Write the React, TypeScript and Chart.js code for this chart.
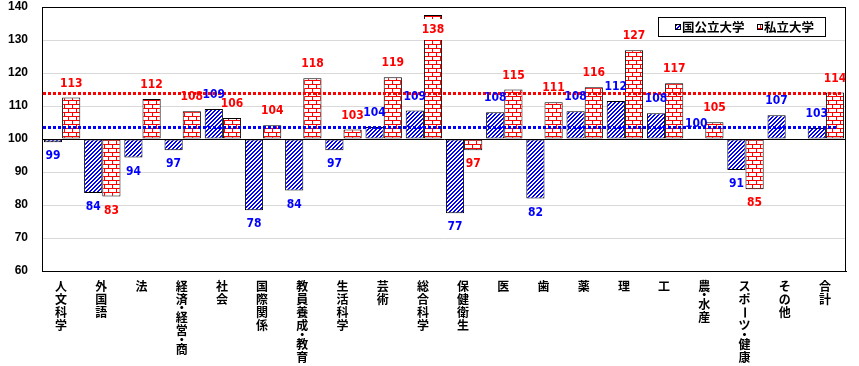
import React, { useEffect, useRef } from "react";
import { Chart, registerables } from "chart.js";

Chart.register(...registerables);

const categories = [
  "人文科学", "外国語", "法", "経済・経営・商", "社会", "国際関係", "教員養成・教育",
  "生活科学", "芸術", "総合科学", "保健衛生", "医", "歯", "薬", "理", "工",
  "農・水産", "スポーツ・健康", "その他", "合計",
];

const seriesNames = ["国公立大学", "私立大学"];

const publicValues = [
  99.0, 83.6, 94.4, 96.6, 109.1, 78.4, 84.4, 96.6, 103.6, 108.6,
  77.5, 108.1, 82.0, 108.4, 111.5, 107.8, 100.2, 90.6, 107.2, 103.3,
];
const privateValues = [
  112.6, 82.6, 112.1, 108.4, 106.4, 104.2, 118.4, 102.9, 118.7, 137.6,
  96.6, 115.0, 111.1, 115.7, 126.9, 116.9, 105.1, 84.8, null, 114.1,
];

const publicLabels = [99, 84, 94, 97, 109, 78, 84, 97, 104, 109, 77, 108, 82, 108, 112, 108, 100, 91, 107, 103];
const privateLabels = [113, 83, 112, 108, 106, 104, 118, 103, 119, 138, 97, 115, 111, 116, 127, 117, 105, 85, null, 114];

const publicAverage = 103.5;
const privateAverage = 114.0;

const yMin = 60;
const yMax = 140;
const yStep = 10;
const baseValue = 100;

const BLUE = "#0000ff";
const RED = "#ff0000";
const CJK = '"Noto Sans CJK JP", "Noto Sans CJK SC", sans-serif';
const NUM = '"Liberation Sans Narrow", "DejaVu Sans Condensed", "Liberation Sans", sans-serif';

function makeHatch(): CanvasPattern | string {
  const c = document.createElement("canvas");
  c.width = 4;
  c.height = 4;
  const g = c.getContext("2d");
  if (!g) return BLUE;
  g.fillStyle = "#ffffff";
  g.fillRect(0, 0, 4, 4);
  g.fillStyle = BLUE;
  for (let x = 0; x < 4; x++) {
    for (let y = 0; y < 4; y++) {
      const m = (x + y) % 4;
      if (m === 0 || m === 1) g.fillRect(x, y, 1, 1);
    }
  }
  return g.createPattern(c, "repeat") || BLUE;
}

function makeBrick(): CanvasPattern | string {
  const c = document.createElement("canvas");
  c.width = 8;
  c.height = 8;
  const g = c.getContext("2d");
  if (!g) return RED;
  g.fillStyle = "#ffffff";
  g.fillRect(0, 0, 8, 8);
  g.fillStyle = RED;
  g.fillRect(0, 0, 8, 1);
  g.fillRect(0, 4, 8, 1);
  g.fillRect(0, 0, 1, 4);
  g.fillRect(4, 4, 1, 4);
  return g.createPattern(c, "repeat") || RED;
}

function drawVertical(ctx: CanvasRenderingContext2D, text: string, x: number, y0: number) {
  const step = 13.3;
  const dotExtra = 5;
  let y = y0;
  for (const ch of Array.from(text)) {
    if (ch === "・") {
      const prev = y - step;
      const next = y + dotExtra;
      const yy = (prev + next) / 2;
      ctx.save();
      ctx.textBaseline = "alphabetic";
      const m = ctx.measureText(ch);
      const asc = m.actualBoundingBoxAscent || 0;
      const desc = m.actualBoundingBoxDescent || 0;
      ctx.fillText(ch, x, yy + (asc - desc) / 2);
      ctx.restore();
      y += dotExtra;
    } else if (ch === "ー") {
      ctx.save();
      ctx.translate(x, y);
      ctx.rotate(Math.PI / 2);
      ctx.fillText(ch, 0, 0);
      ctx.restore();
      y += step;
    } else {
      ctx.fillText(ch, x, y);
      y += step;
    }
  }
}

export default function App() {
  const ref = useRef<HTMLCanvasElement | null>(null);

  useEffect(() => {
    document.body.style.margin = "0";
    const canvas = ref.current;
    if (!canvas) return;
    const hatch = makeHatch();
    const brick = makeBrick();

    const overlay = {
      id: "overlay",
      afterDatasetsDraw(chart: any) {
        const ctx: CanvasRenderingContext2D = chart.ctx;
        const area = chart.chartArea;
        const ys = chart.scales.y;

        // average dotted lines
        ctx.save();
        ctx.lineWidth = 3;
        ctx.setLineDash([3, 2]);
        const drawAvg = (v: number, color: string, endInset: number) => {
          const py = Math.round(ys.getPixelForValue(v)) + 0.5;
          ctx.strokeStyle = color;
          ctx.beginPath();
          ctx.moveTo(area.left + 1, py);
          ctx.lineTo(area.right - endInset, py);
          ctx.stroke();
        };
        drawAvg(privateAverage, RED, 3);
        drawAvg(publicAverage, BLUE, 8);
        ctx.restore();

        // data labels
        ctx.save();
        ctx.font = `bold 12px ${NUM}`;
        ctx.textAlign = "center";
        ctx.textBaseline = "middle";
        const labelSets = [
          { values: publicValues, labels: publicLabels, color: BLUE, ds: 0 },
          { values: privateValues, labels: privateLabels, color: RED, ds: 1 },
        ];
        for (const set of labelSets) {
          const meta = chart.getDatasetMeta(set.ds);
          set.values.forEach((v, i) => {
            const lab = set.labels[i];
            if (v === null || lab === null) return;
            const el = meta.data[i];
            if (!el) return;
            const x = el.x;
            const py = ys.getPixelForValue(v);
            let y = v >= baseValue ? py - 14 : py + 14;
            const text = String(lab);
            if (y < area.top + 22) {
              y = area.top + 22.5;
              const w = Math.max(ctx.measureText(text).width + 4, el.width + 2);
              ctx.fillStyle = "#ffffff";
              ctx.fillRect(x - w / 2, y - 10.5, w, 21);
            }
            ctx.fillStyle = set.color;
            ctx.fillText(text, x, y);
          });
        }
        ctx.restore();
      },
      afterDraw(chart: any) {
        const ctx: CanvasRenderingContext2D = chart.ctx;
        const area = chart.chartArea;
        const xs = chart.scales.x;

        // plot border
        ctx.save();
        ctx.strokeStyle = "#000000";
        ctx.lineWidth = 1;
        ctx.strokeRect(Math.round(area.left) + 0.5, Math.round(area.top) + 0.5,
          Math.round(area.right - area.left) - 1, Math.round(area.bottom - area.top));
        ctx.restore();

        // category labels (vertical)
        ctx.save();
        ctx.fillStyle = "#000000";
        ctx.font = `bold 12px ${CJK}`;
        ctx.textAlign = "center";
        ctx.textBaseline = "middle";
        categories.forEach((c, i) => {
          const x = xs.getPixelForValue(i) - 1;
          drawVertical(ctx, c, x, area.bottom + 15);
        });
        ctx.restore();

        // legend
        ctx.save();
        const lw = 168;
        const lh = 20;
        const lx = Math.round(area.right) - 20 - lw;
        const ly = Math.round(area.top) + 10;
        ctx.fillStyle = "#ffffff";
        ctx.fillRect(lx, ly, lw, lh);
        ctx.strokeStyle = "#000000";
        ctx.lineWidth = 1;
        ctx.strokeRect(lx + 0.5, ly + 0.5, lw - 1, lh - 1);
        ctx.font = `bold 12.5px ${CJK}`;
        ctx.textBaseline = "middle";
        ctx.textAlign = "left";
        const items = [
          { name: seriesNames[0], fill: hatch, off: 17 },
          { name: seriesNames[1], fill: brick, off: 99 },
        ];
        for (const it of items) {
          const ix = lx + it.off;
          const iy = ly + 7;
          ctx.fillStyle = it.fill as any;
          ctx.fillRect(ix, iy, 6, 6);
          ctx.strokeStyle = "#000000";
          ctx.strokeRect(ix + 0.5, iy + 0.5, 5, 5);
          ctx.fillStyle = "#000000";
          ctx.fillText(it.name, ix + 7, ly + lh / 2 + 0.5);
        }
        ctx.restore();
      },
    };

    const chart = new Chart(canvas, {
      type: "bar",
      data: {
        labels: categories,
        datasets: [
          {
            label: seriesNames[0],
            data: publicValues,
            base: baseValue,
            backgroundColor: hatch as any,
            borderColor: "#000000",
            borderWidth: 1,
            borderSkipped: false,
            categoryPercentage: 0.905,
            barPercentage: 1.0,
          } as any,
          {
            label: seriesNames[1],
            data: privateValues,
            base: baseValue,
            backgroundColor: brick as any,
            borderColor: "#000000",
            borderWidth: 1,
            borderSkipped: false,
            categoryPercentage: 0.905,
            barPercentage: 1.0,
          } as any,
        ],
      },
      options: {
        responsive: false,
        devicePixelRatio: 1,
        animation: false,
        layout: { padding: { top: 7, right: 13, bottom: 0, left: 0 } },
        plugins: {
          legend: { display: false },
          tooltip: { enabled: false },
          title: { display: false },
        },
        scales: {
          x: {
            grid: { display: false, drawTicks: false },
            border: { display: true, color: "#000000", width: 1 },
            ticks: { display: false },
            afterFit: (s: any) => {
              s.height = 95;
              s.paddingLeft = 0;
              s.paddingRight = 0;
            },
          },
          y: {
            min: yMin,
            max: yMax,
            ticks: {
              stepSize: yStep,
              padding: 14,
              color: "#000000",
              font: { family: '"Liberation Sans", Arial, sans-serif', size: 12, weight: "bold" },
            },
            grid: {
              drawTicks: false,
              color: (c: any) => (c.tick && c.tick.value === baseValue ? "#000000" : "#d9d9d9"),
              lineWidth: 1,
            },
            border: { display: true, color: "#000000", width: 1 },
            afterFit: (s: any) => {
              s.width = 42;
              s.paddingTop = 0;
              s.paddingBottom = 0;
            },
          },
        },
      },
      plugins: [overlay],
    } as any);

    return () => chart.destroy();
  }, []);

  return (
    <div style={{ width: 859, height: 366, background: "#ffffff" }}>
      <canvas ref={ref} width={859} height={366} style={{ display: "block", width: 859, height: 366 }} />
    </div>
  );
}
